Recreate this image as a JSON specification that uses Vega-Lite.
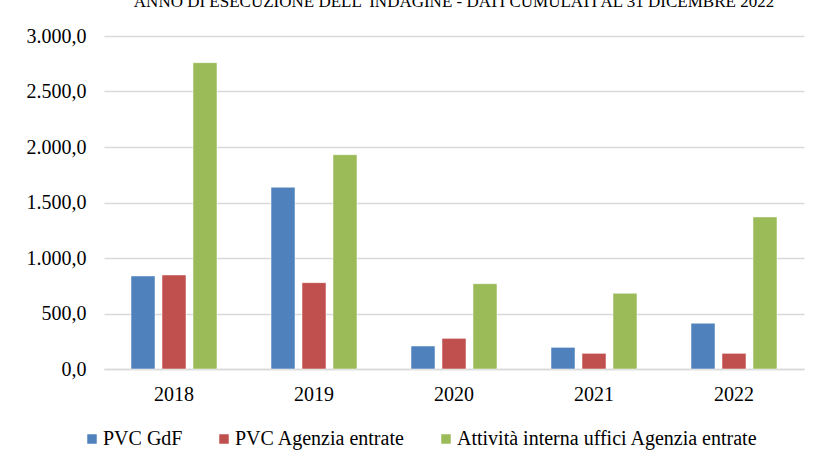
{
  "$schema": "https://vega.github.io/schema/vega-lite/v6.json",
  "autosize": {"type": "none"},
  "padding": {"left": 104, "top": 36, "right": 13, "bottom": 92},
  "width": 700,
  "height": 333,
  "background": "white",
  "title": {
    "text": "ANNO DI ESECUZIONE DELL' INDAGINE - DATI CUMULATI AL 31 DICEMBRE 2022",
    "font": "Liberation Serif",
    "fontSize": 17,
    "fontWeight": "normal",
    "color": "#000000",
    "anchor": "middle",
    "offset": 2,
    "baseline": "alphabetic"
  },
  "config": {
    "locale": {"number": {"decimal": ",", "thousands": ".", "grouping": [3], "currency": ["€", ""]}},
    "view": {"stroke": null},
    "font": "Liberation Serif"
  },
  "data": {
    "values": [
      {"anno": "2018", "serie": "PVC GdF", "valore": 838},
      {"anno": "2018", "serie": "PVC Agenzia entrate", "valore": 847},
      {"anno": "2018", "serie": "Attività interna uffici Agenzia entrate", "valore": 2760},
      {"anno": "2019", "serie": "PVC GdF", "valore": 1637},
      {"anno": "2019", "serie": "PVC Agenzia entrate", "valore": 778},
      {"anno": "2019", "serie": "Attività interna uffici Agenzia entrate", "valore": 1931},
      {"anno": "2020", "serie": "PVC GdF", "valore": 207},
      {"anno": "2020", "serie": "PVC Agenzia entrate", "valore": 276},
      {"anno": "2020", "serie": "Attività interna uffici Agenzia entrate", "valore": 769},
      {"anno": "2021", "serie": "PVC GdF", "valore": 195},
      {"anno": "2021", "serie": "PVC Agenzia entrate", "valore": 141},
      {"anno": "2021", "serie": "Attività interna uffici Agenzia entrate", "valore": 682},
      {"anno": "2022", "serie": "PVC GdF", "valore": 412},
      {"anno": "2022", "serie": "PVC Agenzia entrate", "valore": 141},
      {"anno": "2022", "serie": "Attività interna uffici Agenzia entrate", "valore": 1370}
    ]
  },
  "mark": {"type": "bar", "stroke": "white", "strokeWidth": 0.5},
  "encoding": {
    "x": {
      "field": "anno",
      "type": "nominal",
      "scale": {"paddingInner": 0.386, "paddingOuter": 0.193},
      "axis": {
        "title": null,
        "labelAngle": 0,
        "labelFont": "Liberation Serif",
        "labelFontSize": 20,
        "labelColor": "#000000",
        "labelPadding": 15,
        "ticks": false,
        "domainColor": "#d9d9d9",
        "domainWidth": 1.5
      }
    },
    "xOffset": {
      "field": "serie",
      "type": "nominal",
      "sort": ["PVC GdF", "PVC Agenzia entrate", "Attività interna uffici Agenzia entrate"],
      "scale": {"paddingInner": 0.226, "paddingOuter": 0}
    },
    "y": {
      "field": "valore",
      "type": "quantitative",
      "scale": {"domain": [0, 3000]},
      "axis": {
        "title": null,
        "values": [0, 500, 1000, 1500, 2000, 2500, 3000],
        "format": ",.1f",
        "labelFont": "Liberation Serif",
        "labelFontSize": 20,
        "labelColor": "#000000",
        "labelPadding": 18,
        "ticks": false,
        "domain": false,
        "gridColor": "#d9d9d9",
        "gridWidth": 1.5
      }
    },
    "color": {
      "field": "serie",
      "type": "nominal",
      "sort": ["PVC GdF", "PVC Agenzia entrate", "Attività interna uffici Agenzia entrate"],
      "scale": {"range": ["#4F81BD", "#C0504D", "#9BBB59"]},
      "legend": {
        "title": null,
        "orient": "none",
        "direction": "horizontal",
        "legendX": -22,
        "legendY": 393,
        "symbolType": "square",
        "symbolSize": 90,
        "symbolStrokeWidth": 0,
        "labelFont": "Liberation Serif",
        "labelFontSize": 20,
        "labelColor": "#000000",
        "labelOffset": 1,
        "columnPadding": 31,
        "labelLimit": 400
      }
    }
  }
}
